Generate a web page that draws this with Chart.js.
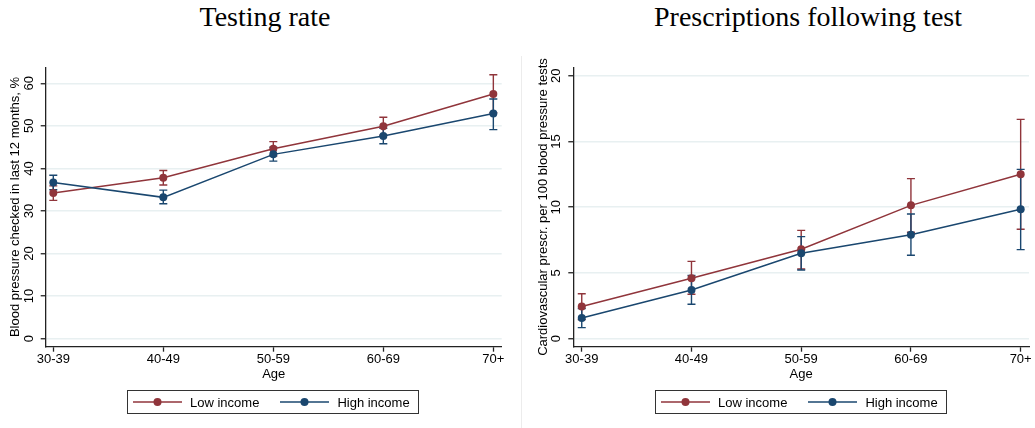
<!DOCTYPE html>
<html>
<head>
<meta charset="utf-8">
<script src="https://cdn.jsdelivr.net/npm/chart.js@4"></script>
<style>
  body { margin: 0; background: #fff; width: 1035px; height: 428px; position: relative; overflow: hidden;
         font-family: "Liberation Sans", Arial, sans-serif; }
  .panel { position: absolute; top: 0; }
  .title { position: absolute; top: 3px; font-family: "Liberation Serif", serif; font-size: 28px;
           line-height: 28px; white-space: nowrap; transform: translateX(-50%); color: #000; }
  .legend { position: absolute; top: 390px; height: 22px; width: 290px; border: 1px solid #333;
            display: flex; align-items: center; font-size: 13px; color: #000; }
  .legend .item { display: flex; align-items: center; }
  .legend svg { display: block; }
  .sep { position: absolute; left: 521px; top: 56px; width: 0; height: 372px; border-left: 1px solid #ececec; }
</style>
</head>
<body>
<div class="title" style="left:265px">Testing rate</div>
<div class="title" style="left:808px">Prescriptions following test</div>
<div class="sep"></div>
<div class="panel" style="left:0"><canvas id="testChart" width="520" height="428"></canvas></div>
<div class="panel" style="left:520px"><canvas id="rxChart" width="515" height="428"></canvas></div>
<div class="legend" id="legendLeft" style="left:127px"></div>
<div class="legend" id="legendRight" style="left:655px"></div>

<script>
const ageGroups = ["30-39", "40-49", "50-59", "60-69", "70+"];
const seriesNames = ["Low income", "High income"];

// testing rate, %
const testLow = [34.2, 37.8, 44.6, 49.9, 57.5];
const testLowLo = [32.5, 36.1, 42.9, 47.8, 53.1];
const testLowHi = [35.9, 39.5, 46.3, 52.0, 62.0];
const testHigh = [36.7, 33.2, 43.3, 47.6, 52.9];
const testHighLo = [35.0, 31.7, 41.7, 45.8, 49.1];
const testHighHi = [38.4, 34.9, 45.0, 49.4, 56.3];
const testTicks = [0, 10, 20, 30, 40, 50, 60];

// prescriptions per 100 tests
const rxLow = [2.45, 4.59, 6.8, 10.14, 12.5];
const rxLowLo = [1.45, 3.38, 5.3, 8.1, 8.32];
const rxLowHi = [3.42, 5.88, 8.24, 12.17, 16.68];
const rxHigh = [1.57, 3.7, 6.49, 7.91, 9.84];
const rxHighLo = [0.84, 2.62, 5.22, 6.34, 6.77];
const rxHighHi = [2.3, 4.8, 7.76, 9.48, 12.88];
const rxTicks = [0, 5, 10, 15, 20];

const red = "#90353b";
const blue = "#1a476f";
const axisColor = "#222";
const gridColor = "#e8f0f1";
const font = { family: '"Liberation Sans", Arial, sans-serif', size: 13 };

// vertical caps for the confidence intervals
const errorBars = {
  id: "errorBars",
  beforeDatasetsDraw(chart) {
    const { ctx, scales: { x, y } } = chart;
    chart.data.datasets.forEach(ds => {
      ctx.save();
      ctx.strokeStyle = ds.borderColor;
      ctx.lineWidth = 1.4;
      ds.lo.forEach((lo, i) => {
        const px = x.getPixelForValue(i);
        const top = y.getPixelForValue(ds.hi[i]);
        const bot = y.getPixelForValue(lo);
        ctx.beginPath();
        ctx.moveTo(px, top); ctx.lineTo(px, bot);
        ctx.moveTo(px - 4, top); ctx.lineTo(px + 4, top);
        ctx.moveTo(px - 4, bot); ctx.lineTo(px + 4, bot);
        ctx.stroke();
      });
      ctx.restore();
    });
  }
};

// stata style: y tick labels turned on their side
const yTickLabels = {
  id: "yTickLabels",
  afterDraw(chart) {
    const { ctx, scales: { y } } = chart;
    const xc = chart.chartArea.left - 16.5;
    ctx.save();
    ctx.font = '13px "Liberation Sans", Arial, sans-serif';
    ctx.fillStyle = "#000";
    ctx.textAlign = "center";
    ctx.textBaseline = "middle";
    y.ticks.forEach(t => {
      ctx.save();
      ctx.translate(xc, y.getPixelForValue(t.value));
      ctx.rotate(-Math.PI / 2);
      ctx.fillText(String(t.value), 0, 0);
      ctx.restore();
    });
    ctx.restore();
  }
};

function series(label, values, lo, hi, color, order) {
  return {
    label: label,
    data: values.map((v, i) => ({ x: i, y: v })),
    lo: lo,
    hi: hi,
    order: order,
    borderColor: color,
    backgroundColor: color,
    pointBackgroundColor: color,
    borderWidth: 1.5,
    pointRadius: 4,
    pointBorderWidth: 0,
    tension: 0
  };
}

function makeChart(id, cfg) {
  return new Chart(document.getElementById(id), {
    type: "line",
    data: {
      datasets: [
        series(seriesNames[0], cfg.low, cfg.lowLo, cfg.lowHi, red, 2),
        series(seriesNames[1], cfg.high, cfg.highLo, cfg.highHi, blue, 1)
      ]
    },
    options: {
      responsive: false,
      animation: false,
      layout: { padding: { left: 0, right: cfg.padRight, top: 67.3, bottom: 45.3 } },
      plugins: { legend: { display: false }, tooltip: { enabled: false } },
      scales: {
        x: {
          type: "linear",
          min: cfg.xMin,
          max: 4.076,
          afterBuildTicks: s => { s.ticks = ageGroups.map((c, i) => ({ value: i })); },
          afterFit: s => { s.height = 36; },
          ticks: { callback: v => ageGroups[v], font: font, color: "#000", padding: 0, maxRotation: 0, autoSkip: false },
          grid: { drawOnChartArea: false, tickLength: 5, tickColor: axisColor, tickWidth: 1.3 },
          border: { color: axisColor, width: 1.3 },
          title: { display: true, text: "Age", font: font, color: "#000", padding: { top: 0, bottom: 0 } }
        },
        y: {
          min: cfg.yMin,
          max: cfg.yMax,
          afterBuildTicks: s => { s.ticks = cfg.ticks.map(v => ({ value: v })); },
          afterFit: s => { s.width = cfg.axisWidth; },
          ticks: { display: false },
          grid: { color: gridColor, lineWidth: 1.5, tickLength: 5, tickColor: axisColor, tickWidth: 1.3 },
          border: { color: axisColor, width: 1.3 },
          title: { display: true, text: cfg.yTitle, font: font, color: "#000", padding: { top: cfg.titlePad, bottom: 0 } }
        }
      }
    },
    plugins: [errorBars, yTickLabels]
  });
}

makeChart("testChart", {
  low: testLow, lowLo: testLowLo, lowHi: testLowHi,
  high: testHigh, highLo: testHighLo, highHi: testHighHi,
  ticks: testTicks, yMin: -1.88, yMax: 63.75, xMin: -0.069,
  axisWidth: 45.7, padRight: 18.3, titlePad: 7.2,
  yTitle: "Blood pressure checked in last 12 months, %"
});

makeChart("rxChart", {
  low: rxLow, lowLo: rxLowLo, lowHi: rxLowHi,
  high: rxHigh, highLo: rxHighLo, highHi: rxHighHi,
  ticks: rxTicks, yMin: -0.61, yMax: 20.64, xMin: -0.077,
  axisWidth: 53.3, padRight: 6, titlePad: 15.5,
  yTitle: "Cardiovascular prescr. per 100 blood pressure tests"
});

function buildLegend(id) {
  const box = document.getElementById(id);
  [red, blue].forEach((color, i) => {
    const item = document.createElement("div");
    item.className = "item";
    item.style.marginLeft = i === 0 ? "5px" : "21px";
    item.innerHTML =
      `<svg width="49" height="10"><line x1="0" y1="5" x2="49" y2="5" stroke="${color}" stroke-width="1.5"/>` +
      `<circle cx="24.5" cy="5" r="4" fill="${color}"/></svg>` +
      `<span style="margin-left:8px">${seriesNames[i]}</span>`;
    box.appendChild(item);
  });
}
buildLegend("legendLeft");
buildLegend("legendRight");
</script>
</body>
</html>
